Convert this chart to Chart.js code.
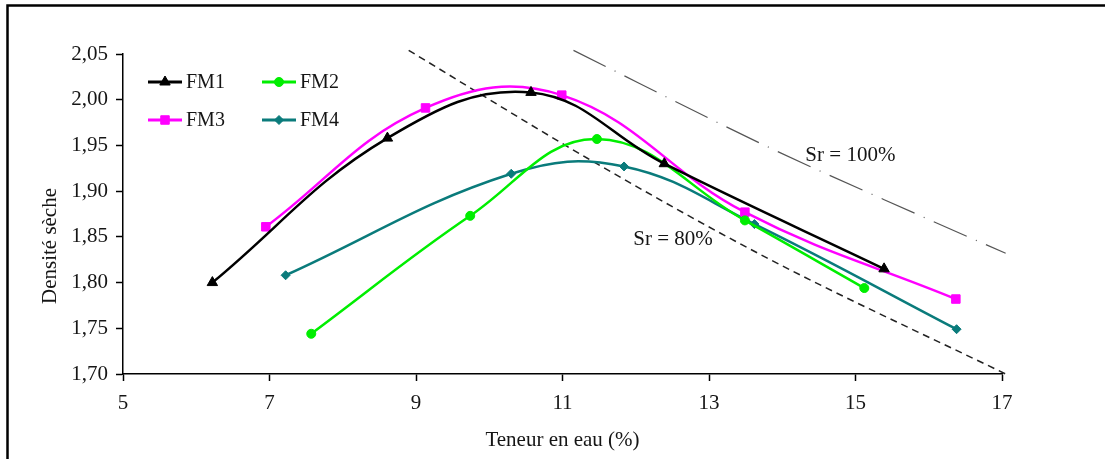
<!DOCTYPE html>
<html lang="fr">
<head>
<meta charset="utf-8">
<title>Densité sèche – Teneur en eau</title>
<script src="https://cdn.jsdelivr.net/npm/chart.js@4/dist/chart.umd.min.js"></script>
<style>
  html, body { margin: 0; padding: 0; background: #fff; overflow: hidden; }
  #wrap { position: relative; width: 1105px; height: 459px; }
</style>
</head>
<body>
<div id="wrap"><canvas id="proctor" width="1105" height="459"></canvas></div>
<script>
// Proctor curves: dry density vs water content for four mixes
const seriesNames = ["FM1", "FM2", "FM3", "FM4"];

const waterFM1 = [6.22, 8.61, 10.57, 12.39, 15.39];
const densFM1  = [1.800, 1.958, 2.008, 1.930, 1.815];

const waterFM2 = [7.57, 9.74, 11.47, 13.49, 15.12];
const densFM2  = [1.744, 1.873, 1.957, 1.868, 1.794];

const waterFM3 = [6.95, 9.13, 10.99, 13.49, 16.37];
const densFM3  = [1.861, 1.991, 2.005, 1.877, 1.782];

const waterFM4 = [7.22, 10.30, 11.84, 13.62, 16.38];
const densFM4  = [1.808, 1.919, 1.927, 1.864, 1.749];

// saturation lines
const waterSr80  = [8.90, 11.34, 13.79, 17.05];
const densSr80   = [2.054, 1.936, 1.827, 1.700];
const waterSr100 = [11.15, 13.84, 15.86, 17.05];
const densSr100  = [2.054, 1.947, 1.874, 1.832];

const xTicks = [5, 7, 9, 11, 13, 15, 17];
const yTicks = [1.70, 1.75, 1.80, 1.85, 1.90, 1.95, 2.00, 2.05];

const serif = '"Liberation Serif", "Times New Roman", serif';
const ink = "#151515";
Chart.defaults.font.family = serif;
Chart.defaults.font.size = 21;
Chart.defaults.color = ink;

const toPoints = (xs, ys) => xs.map((x, i) => ({ x: x, y: ys[i] }));

function curve(label, xs, ys, color, style, radius) {
  return {
    label: label,
    data: toPoints(xs, ys),
    borderColor: color,
    backgroundColor: color,
    pointBackgroundColor: color,
    pointBorderColor: color,
    pointStyle: style,
    pointRadius: radius,
    pointBorderWidth: 1,
    borderWidth: 2.5,
    tension: 0.4,
    fill: false
  };
}

function satLine(label, xs, ys, dash, color, width) {
  return {
    label: label,
    data: toPoints(xs, ys),
    borderColor: color,
    borderWidth: width,
    borderDash: dash,
    pointRadius: 0,
    cubicInterpolationMode: "monotone",
    fill: false,
    clip: 8
  };
}

// outer frame (top + left edges only)
const framePlugin = {
  id: "frame",
  beforeDraw(chart) {
    const ctx = chart.ctx;
    ctx.save();
    ctx.fillStyle = "#fff";
    ctx.fillRect(0, 0, chart.width, chart.height);
    ctx.strokeStyle = "#000";
    ctx.lineWidth = 2.5;
    ctx.beginPath();
    ctx.moveTo(7.5, chart.height);
    ctx.lineTo(7.5, 5.5);
    ctx.lineTo(chart.width, 5.5);
    ctx.stroke();
    ctx.restore();
  }
};

// text beside the saturation lines, plus the rotated y title
const satLabels = [
  { text: "Sr = 80%", x: 12.51, y: 1.8466 },
  { text: "Sr = 100%", x: 14.93, y: 1.9395 }
];

const labelPlugin = {
  id: "satLabels",
  afterDatasetsDraw(chart) {
    const ctx = chart.ctx;
    const xs = chart.scales.x, ys = chart.scales.y;
    ctx.save();
    ctx.font = "21px " + serif;
    ctx.fillStyle = ink;
    ctx.textAlign = "center";
    ctx.textBaseline = "middle";
    satLabels.forEach(l => {
      ctx.fillText(l.text, xs.getPixelForValue(l.x), ys.getPixelForValue(l.y));
    });
    // y axis title sits a little below the axis middle
    ctx.translate(50, 246);
    ctx.rotate(-Math.PI / 2);
    ctx.fillText("Densité sèche", 0, 0);
    ctx.restore();
  }
};

// two-column key in the upper left corner
const keyPlugin = {
  id: "seriesKey",
  afterDraw(chart) {
    const ctx = chart.ctx;
    const slots = [[148, 82], [262, 82], [148, 120], [262, 120]];
    ctx.save();
    seriesNames.forEach((name, i) => {
      const ds = chart.data.datasets[i];
      const [x, y] = slots[i];
      ctx.strokeStyle = ds.borderColor;
      ctx.fillStyle = ds.borderColor;
      ctx.lineWidth = 3;
      ctx.setLineDash([]);
      ctx.beginPath();
      ctx.moveTo(x, y);
      ctx.lineTo(x + 34, y);
      ctx.stroke();
      ctx.lineWidth = 1;
      Chart.helpers.drawPoint(ctx, { pointStyle: ds.pointStyle, radius: ds.pointRadius, borderWidth: 1, rotation: 0 }, x + 17, y);
      ctx.fillStyle = ink;
      ctx.font = "20px " + serif;
      ctx.textAlign = "left";
      ctx.textBaseline = "middle";
      ctx.fillText(name, x + 38, y + 1);
    });
    ctx.restore();
  }
};

new Chart(document.getElementById("proctor"), {
  type: "line",
  data: {
    datasets: [
      curve(seriesNames[0], waterFM1, densFM1, "#000000", "triangle", 6),
      curve(seriesNames[1], waterFM2, densFM2, "#00ee00", "circle", 4.5),
      curve(seriesNames[2], waterFM3, densFM3, "#ff00ff", "rect", 6),
      curve(seriesNames[3], waterFM4, densFM4, "#0a7b7b", "rectRot", 4.5),
      satLine("Sr = 80%", waterSr80, densSr80, [7, 5], "#222222", 1.5),
      satLine("Sr = 100%", waterSr100, densSr100, [36, 10, 1, 10], "#555555", 1.2)
    ]
  },
  options: {
    responsive: false,
    animation: false,
    layout: { padding: { left: 0, top: 54, right: 103, bottom: 0 } },
    plugins: {
      legend: { display: false },
      tooltip: { enabled: false }
    },
    scales: {
      x: {
        type: "linear",
        min: xTicks[0],
        max: xTicks[xTicks.length - 1],
        afterBuildTicks(scale) { scale.ticks = xTicks.map(v => ({ value: v })); },
        afterFit(scale) { scale.height = 85; },
        grid: { drawOnChartArea: false, drawTicks: true, tickLength: 7, tickColor: "#000", tickWidth: 1.5 },
        border: { display: true, color: "#000", width: 1.5 },
        ticks: { padding: 10, color: ink, callback: v => String(v) },
        title: { display: true, text: "Teneur en eau (%)", padding: { top: 0, bottom: 6 }, color: ink }
      },
      y: {
        type: "linear",
        min: yTicks[0],
        max: yTicks[yTicks.length - 1],
        afterBuildTicks(scale) { scale.ticks = yTicks.map(v => ({ value: v })); },
        afterFit(scale) { scale.width = 123; },
        grid: { drawOnChartArea: false, drawTicks: true, tickLength: 7, tickColor: "#000", tickWidth: 1.5 },
        border: { display: true, color: "#000", width: 1.5 },
        ticks: { padding: 8, color: ink, callback: v => v.toFixed(2).replace(".", ",") },
        title: { display: false }
      }
    }
  },
  plugins: [framePlugin, labelPlugin, keyPlugin]
});
</script>
</body>
</html>
